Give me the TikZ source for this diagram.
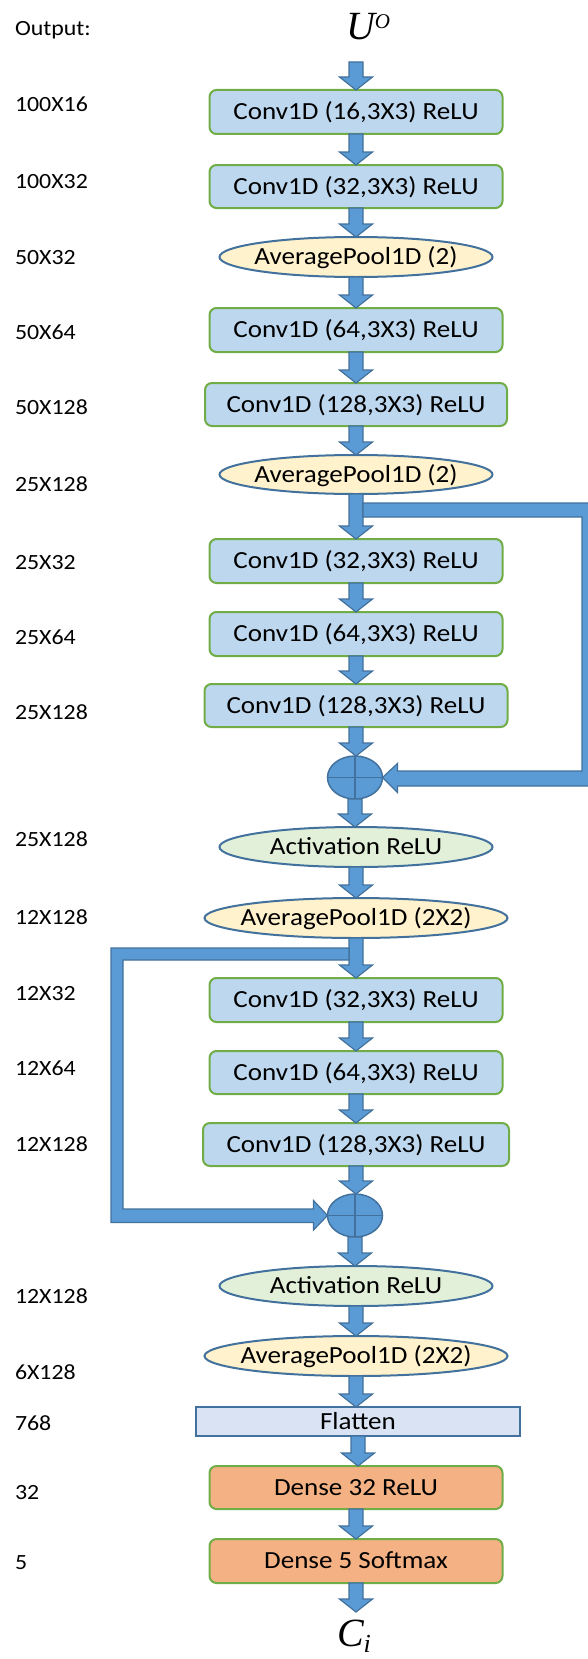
\documentclass[tikz,border=0pt]{standalone}
\usepackage{fontspec}
\setmainfont{Carlito}[FakeStretch=1.1]
\newfontfamily\tnr{Liberation Serif}
\usetikzlibrary{shapes.geometric,calc}
\definecolor{arrfill}{HTML}{5B9BD5}
\definecolor{arrline}{HTML}{41719C}
\definecolor{convfill}{HTML}{BDD7EE}
\definecolor{grn}{HTML}{70AD47}
\definecolor{poolfill}{HTML}{FFF2CC}
\definecolor{actfill}{HTML}{E2F0D9}
\definecolor{flatfill}{HTML}{DAE3F3}
\definecolor{densefill}{HTML}{F4B183}
\newcommand\boxfont{\fontsize{24.6}{28}\selectfont}
\newcommand\labfont{\fontsize{21.7}{26}\selectfont}
\begin{document}
\begin{tikzpicture}[x=1pt,y=-1pt,
  every node/.style={inner sep=0pt, outer sep=0pt},
  convbox/.style={draw=grn, line width=2pt, fill=convfill, rounded corners=7pt, minimum width=293pt, minimum height=44pt, text height=15.8pt, text depth=0pt, font=\boxfont},
  densebox/.style={convbox, fill=densefill},
  flatbox/.style={draw=arrline, line width=2pt, fill=flatfill, minimum width=324pt, minimum height=29pt, text height=15.8pt, text depth=0pt, font=\boxfont},
  poolell/.style={ellipse, draw=arrline, line width=2pt, fill=poolfill, minimum width=273pt, minimum height=40pt, text height=15.8pt, text depth=0pt, font=\boxfont},
  actell/.style={poolell, fill=actfill},
  addop/.style={ellipse, draw=arrline, line width=1.5pt, fill=arrfill, minimum width=55pt, minimum height=43pt},
  crossline/.style={draw=arrline, line width=1.5pt},
  dimlab/.style={anchor=base west, font=\labfont},
  barrow/.style={fill=arrfill, draw=arrline, line width=1.2pt, line join=miter,
    to path={let \p1=(\tikztostart), \p2=(\tikztotarget) in
      (\x1-7pt,\y1) -- (\x1+7pt,\y1) -- (\x1+7pt,\y2+13pt) -- (\x1+16.5pt,\y2+13pt)
      -- (\x1,\y2) -- (\x1-16.5pt,\y2+13pt) -- (\x1-7pt,\y2+13pt) -- cycle}},
  skiparrow/.style={fill=arrfill, draw=arrline, line width=1.2pt, line join=miter}
]
\useasboundingbox (0,0) rectangle (588,1659);
\clip (0,0) rectangle (588,1659);

% dimension labels
\node[dimlab] (lout) at (15,36) {Output:};
\node[dimlab] (l1) at (15,112) {100X16};
\node[dimlab] (l2) at (15,188) {100X32};
\node[dimlab] (l3) at (15,264) {50X32};
\node[dimlab] (l4) at (15,339) {50X64};
\node[dimlab] (l5) at (15,414) {50X128};
\node[dimlab] (l6) at (15,491) {25X128};
\node[dimlab] (l7) at (15,569) {25X32};
\node[dimlab] (l8) at (15,644) {25X64};
\node[dimlab] (l9) at (15,719) {25X128};
\node[dimlab] (l10) at (15,846) {25X128};
\node[dimlab] (l11) at (15,924) {12X128};
\node[dimlab] (l12) at (15,1000) {12X32};
\node[dimlab] (l13) at (15,1075) {12X64};
\node[dimlab] (l14) at (15,1151) {12X128};
\node[dimlab] (l15) at (15,1303) {12X128};
\node[dimlab] (l16) at (15,1379) {6X128};
\node[dimlab] (l17) at (15,1430) {768};
\node[dimlab] (l18) at (15,1499) {32};
\node[dimlab] (l19) at (15,1569) {5};

% input / output symbols
\node[anchor=base west] (uo) at (346,40) {\tnr\itshape\fontsize{40}{40}\selectfont U\raisebox{11pt}{\fontsize{21}{21}\selectfont O}};
\node[anchor=base west] (ci) at (337,1646) {\tnr\itshape\fontsize{40}{40}\selectfont C\raisebox{-6pt}{\fontsize{26}{26}\selectfont i}};

% layers
\node[convbox] (c1) at (356,112) {Conv1D (16,3X3) ReLU};
\node[convbox, minimum height=43pt] (c2) at (356,186.5) {Conv1D (32,3X3) ReLU};
\node[poolell] (p1) at (356,257) {\makebox[0pt]{AveragePool1D (2)}};
\node[convbox] (c3) at (356,330) {Conv1D (64,3X3) ReLU};
\node[convbox, minimum width=302pt, minimum height=43pt] (c4) at (356,404.5) {Conv1D (128,3X3) ReLU};
\node[poolell, minimum height=39pt] (p2) at (356,474.5) {\makebox[0pt]{AveragePool1D (2)}};
\node[convbox] (c5) at (356,561) {Conv1D (32,3X3) ReLU};
\node[convbox] (c6) at (356,634) {Conv1D (64,3X3) ReLU};
\node[convbox, minimum width=303pt, minimum height=43pt] (c7) at (356,705.5) {Conv1D (128,3X3) ReLU};
\node[addop] (s1) at (355,777.5) {};
\node[actell] (a1) at (356,847) {\makebox[0pt]{Activation ReLU}};
\node[poolell, minimum width=303pt] (p3) at (356,918) {\makebox[0pt]{AveragePool1D (2X2)}};
\node[convbox] (c8) at (356,1000) {Conv1D (32,3X3) ReLU};
\node[convbox, minimum height=43pt] (c9) at (356,1072.5) {Conv1D (64,3X3) ReLU};
\node[convbox, minimum width=306pt, minimum height=43pt] (c10) at (356,1144.5) {Conv1D (128,3X3) ReLU};
\node[addop] (s2) at (355,1215.5) {};
\node[actell] (a2) at (356,1286) {\makebox[0pt]{Activation ReLU}};
\node[poolell, minimum width=303pt] (p4) at (356,1356) {\makebox[0pt]{AveragePool1D (2X2)}};
\node[flatbox] (fl) at (358,1421.5) {Flatten};
\node[densebox, minimum height=43pt] (d1) at (356,1487.5) {Dense 32 ReLU};
\node[densebox] (d2) at (356,1561) {Dense 5 Softmax};

% plus signs
\draw[crossline] (s1.north) -- (s1.south) (s1.west) -- (s1.east);
\draw[crossline] (s2.north) -- (s2.south) (s2.west) -- (s2.east);

% free ends
\coordinate (topin) at (356,62);
\coordinate (botout) at (356,1612);
\coordinate (rrail) at (596,0);
\coordinate (lrail) at (111,0);

% main block arrows
\path[barrow] (topin) to (c1.north);
\path[barrow] (c1.south) to (c2.north);
\path[barrow] (c2.south) to (p1.north);
\path[barrow] (p1.south) to (c3.north);
\path[barrow] (c3.south) to (c4.north);
\path[barrow] (c4.south) to (p2.north);
\path[barrow] (p2.south) to (c5.north);
\path[barrow] (c5.south) to (c6.north);
\path[barrow] (c6.south) to (c7.north);
\path[barrow] (c7.south) to (s1.north);
\path[barrow] (s1.south) to (a1.north);
\path[barrow] (a1.south) to (p3.north);
\path[barrow] (p3.south) to (c8.north);
\path[barrow] (c8.south) to (c9.north);
\path[barrow] (c9.south) to (c10.north);
\path[barrow] (c10.south) to (s2.north);
\path[barrow] (s2.south) to (a2.north);
\path[barrow] (a2.south) to (p4.north);
\path[barrow] (p4.south) to (fl.north);
\path[barrow] (fl.south) to (d1.north);
\path[barrow] (d1.south) to (d2.north);
\path[barrow] (d2.south) to (botout);

% skip connection 1 (right side)
\path[skiparrow] let \p1=(p2.south), \p2=(s1.east), \p3=(rrail) in
  (\x1+7pt,\y1-9pt) -- (\x3,\y1-9pt) -- (\x3,\y2-8.5pt) -- (\x2+15pt,\y2-8.5pt)
  -- (\x2+15pt,\y2-15pt) -- (\x2,\y2) -- (\x2+15pt,\y2+14pt) -- (\x2+15pt,\y2+6.5pt)
  -- (\x3-14pt,\y2+6.5pt) -- (\x3-14pt,\y1-23pt) -- (\x1+7pt,\y1-23pt) -- cycle;

% skip connection 2 (left side)
\path[skiparrow] let \p1=(p3.south), \p2=(s2.west), \p3=(lrail) in
  (\x1-7pt,\y1-10pt) -- (\x3,\y1-10pt) -- (\x3,\y2-7pt) -- (\x2-14pt,\y2-7pt)
  -- (\x2-14pt,\y2-14.5pt) -- (\x2,\y2) -- (\x2-14pt,\y2+15pt) -- (\x2-14pt,\y2+6.5pt)
  -- (\x3+12pt,\y2+6.5pt) -- (\x3+12pt,\y1-22pt) -- (\x1-7pt,\y1-22pt) -- cycle;

\end{tikzpicture}
\end{document}
